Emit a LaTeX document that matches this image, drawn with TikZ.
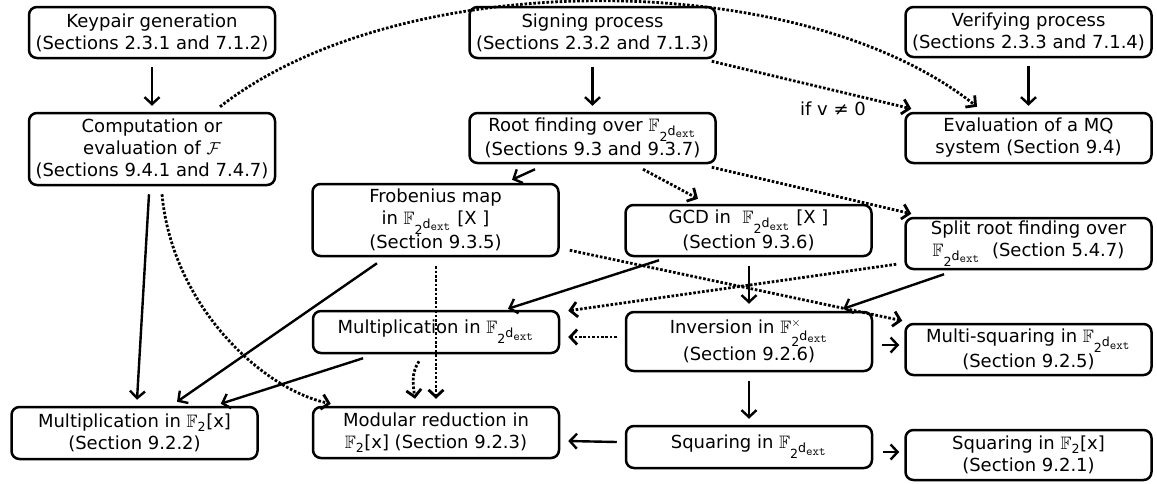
\documentclass[tikz,border=0pt]{standalone}
\usepackage{amsmath,amssymb}
\usepackage{fontspec}
\setmainfont{DejaVu Sans}
\usetikzlibrary{arrows.meta,calc}
\newcommand{\Fext}{\mathbb{F}_{\text{2}^{\scriptstyle\text{d}_{\scriptstyle\text{\ttfamily ext}}}}}
\newcommand{\Fextx}{\mathbb{F}^{\times}_{\text{2}^{\scriptstyle\text{d}_{\scriptstyle\text{\ttfamily ext}}}}}
\newcommand{\Ftwo}{\mathbb{F}_{\text{2}}}
\begin{document}
\begin{tikzpicture}[x=1pt,y=-1pt,
  font=\fontsize{18}{22}\selectfont,
  bx/.style={draw, line width=2.5pt, rounded corners=8pt, align=center, inner sep=0pt, minimum width=246pt},
  arr/.style={line width=2.4pt, -{Straight Barb[length=7pt,width=15pt]}},
  dotarr/.style={arr, line width=2.8pt, dash pattern=on 2.6pt off 1.8pt}]
\useasboundingbox (0,0) rectangle (1157,483);

\node[bx, minimum height=51pt] (key) at (152,32.5) {Keypair generation\\(Sections 2.3.1 and 7.1.2)};
\node[bx, minimum height=72pt] (comp) at (152,149) {Computation or\\evaluation of $\mathcal{F}$\\(Sections 9.4.1 and 7.4.7)};
\node[bx, minimum height=51pt] (sign) at (592.5,32.5) {Signing process\\(Sections 2.3.2 and 7.1.3)};
\node[bx, minimum height=50pt] (root) at (592.5,138) {Root finding over $\Fext$\\ (Sections 9.3 and 9.3.7)};
\node[bx, minimum height=50pt] (verify) at (1028.5,32) {Verifying process\\(Sections 2.3.3 and 7.1.4)};
\node[bx, minimum height=50pt] (eval) at (1028.5,138) {Evaluation of a MQ\\system (Section 9.4)};
\node[bx, minimum height=72pt] (frob) at (435.5,220) {Frobenius map\\in $\Fext$ [X ]\\(Section 9.3.5)};
\node[bx, minimum height=51pt] (gcd) at (748.5,230.5) {GCD in \ $\Fext$ [X ]\\(Section 9.3.6)};
\node[bx, minimum height=51pt] (split) at (1028.5,243.5) {Split root finding over\\$\Fext$ \ (Section 5.4.7)};
\node[bx, minimum height=42pt] (multext) at (436,332) {Multiplication in $\Fext$};
\node[bx, minimum height=59pt] (inv) at (749,341.5) {Inversion in $\Fextx$\\(Section 9.2.6)};
\node[bx, minimum height=51pt] (msq) at (1028.5,349.5) {Multi-squaring in $\Fext$\\(Section 9.2.5)};
\node[bx, minimum height=52pt] (mulf2) at (134.5,433) {Multiplication in $\Ftwo$[x]\\(Section 9.2.2)};
\node[bx, minimum height=51pt] (modred) at (436,432.5) {Modular reduction in\\$\Ftwo$[x] (Section 9.2.3)};
\node[bx, minimum height=42pt] (sqext) at (749,447) {Squaring in $\Fext$};
\node[bx, minimum height=50pt] (sqf2) at (1028.5,455) {Squaring in $\Ftwo$[x]\\(Section 9.2.1)};

% top level
\draw[arr] ($(key.south)+(0,8)$) -- ($(comp.north)+(0,-6)$);
\draw[arr] ($(sign.south)+(0,8)$) -- ($(root.north)+(0,-6)$);
\draw[arr] ($(verify.south)+(0,8)$) -- ($(eval.north)+(0,-6)$);
\draw[dotarr] ($(comp.north)+(68,-5)$) .. controls +(180,-141) and +(-177,-141) .. ($(eval.north)+(-51.5,-5)$);
\draw[dotarr] ($(sign.south east)+(-5,2)$) -- ($(eval.north west)+(7,-3)$)
  node[pos=1, anchor=east, inner sep=0pt, xshift=-44pt] (cond) {if v ≠ 0};

% root finding
\draw[arr] ($(root.south)+(-57.5,5)$) -- ($(frob.north)+(76.5,-3)$);
\draw[dotarr] ($(root.south)+(50.5,5)$) -- ($(gcd.north)+(-50.5,-5)$);
\draw[dotarr] ($(root.south east)+(-5,3)$) -- ($(split.north west)+(7,-3)$);

% computation
\draw[arr] ($(comp.south)+(-3,8)$) -- ($(mulf2.north)+(2.5,-6)$);
\draw[dotarr] ($(comp.south)+(10,8)$) .. controls +(10,110) and +(-70,-15) .. ($(modred.north west)+(19,-2)$);

% frobenius
\draw[arr] ($(frob.south)+(-58.5,6)$) -- ($(mulf2.north)+(42.5,-4)$);
\draw[dotarr] ($(frob.south)+(0.5,9)$) -- ($(modred.north)+(0,-7)$);
\draw[dotarr] ($(frob.south east)+(10,-7)$) -- ($(msq.north west)+(-2,-2)$);

% multiplication ext
\draw[dotarr] ($(multext.south)+(-17,7)$) .. controls +(-8,12) and +(-2,-14) .. ($(modred.north)+(-21,-7)$);
\draw[arr] ($(multext.south)+(-73,4)$) -- ($(mulf2.north east)+(-38,-2)$);

% gcd
\draw[arr] ($(gcd.south)+(-89.5,3)$) -- ($(multext.north)+(72,-1)$);
\draw[arr] ($(gcd.south)+(0.5,9)$) -- ($(inv.north)+(0,-7)$);

% split root
\draw[dotarr] ($(split.south west)+(-8,-6)$) -- ($(multext.north east)+(8,1)$);
\draw[arr] ($(split.south)+(-84.5,4)$) -- ($(inv.north east)+(-30,-2)$);

% inversion
\draw[dotarr] ($(inv.west)+(-8,-4.5)$) -- ($(multext.east)+(8,5)$);
\draw[arr] ($(inv.east)+(9,3.5)$) -- ($(msq.west)+(-5,-4.5)$);
\draw[arr] ($(inv.south)+(0,9)$) -- ($(sqext.north)+(0,-6)$);

% squaring ext
\draw[arr] ($(sqext.west)+(-8,-5)$) -- ($(modred.east)+(8,8.5)$);
\draw[arr] ($(sqext.east)+(10,5)$) -- ($(sqf2.west)+(-5,-3)$);
\end{tikzpicture}
\end{document}
